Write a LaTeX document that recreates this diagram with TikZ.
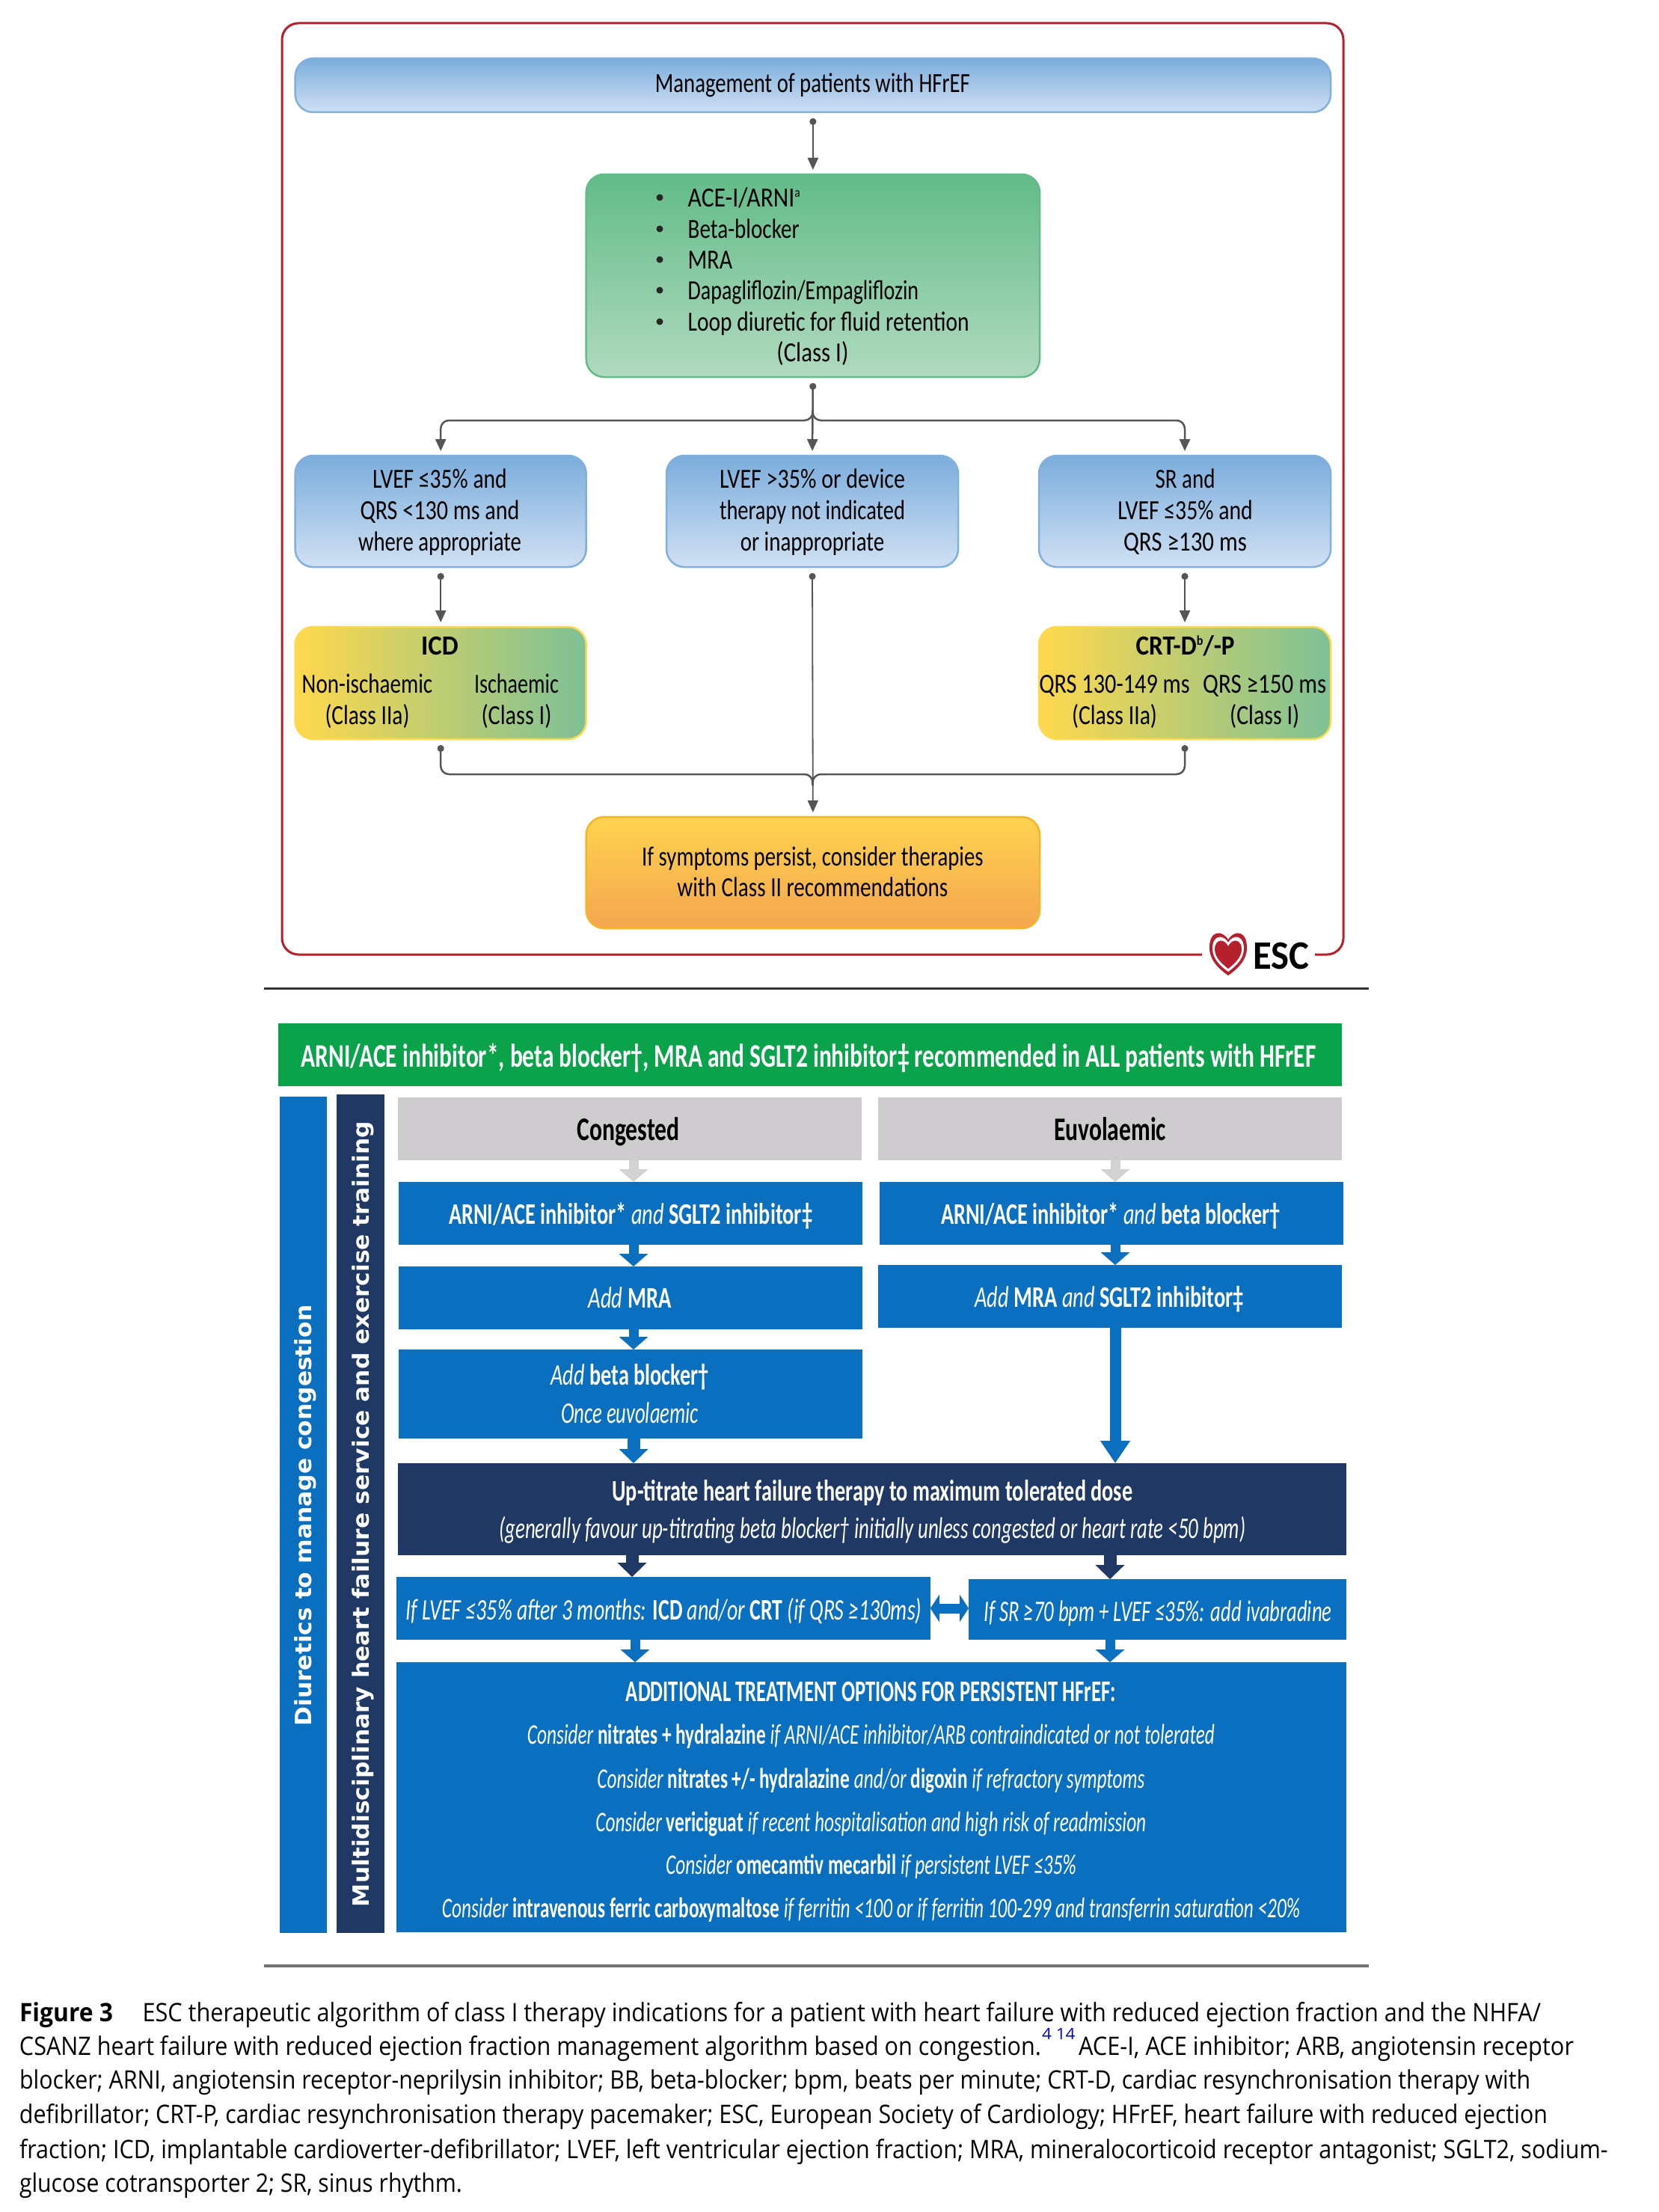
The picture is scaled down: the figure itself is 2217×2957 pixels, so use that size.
\documentclass[tikz,border=0pt]{standalone}
\usepackage{fontspec}
\usepackage{graphicx}
\setmainfont{Carlito}
\newfontfamily\capf{Open Sans}
\newfontfamily\sidef{DejaVu Sans}
\usetikzlibrary{arrows.meta,calc}
\definecolor{frameRed}{HTML}{B5202D}
\definecolor{bTop}{HTML}{7BADDC}
\definecolor{bBot}{HTML}{D0E0F3}
\definecolor{bEdge}{HTML}{7FB0DE}
\definecolor{gTop}{HTML}{62BB88}
\definecolor{gBot}{HTML}{B0DABF}
\definecolor{oTop}{HTML}{FFD34F}
\definecolor{oBot}{HTML}{F4A64F}
\definecolor{oEdge}{HTML}{F5B52A}
\definecolor{yL}{HTML}{FFD84D}
\definecolor{gR}{HTML}{7DC196}
\definecolor{conn}{HTML}{555555}
\definecolor{pBlue}{HTML}{0B6FBF}
\definecolor{pNavy}{HTML}{1F3864}
\definecolor{pGreen}{HTML}{0AA24A}
\definecolor{pGrey}{HTML}{CECCCE}
\definecolor{pArrow}{HTML}{D2D2D2}
\newcommand\fst[1]{\fontsize{#1pt}{#1pt}\selectfont}
\newcommand\fit[2]{\resizebox{#1pt}{\height}{#2}}
\newcounter{tn}
\def\curfs{37}
\def\curfam{}
\newcommand\tx[5][]{\stepcounter{tn}\node[anchor=base,inner sep=0pt,outer sep=0pt,yshift=-10pt,#1] (t\arabic{tn}) at (#2,#3) {\fst{\curfs}\curfam\fit{#4}{#5}};}
\newcommand\bx[6][]{\pgfmathsetmacro\cxx{(#3+#5)/2}\pgfmathsetmacro\cyy{(#4+#6)/2}\pgfmathsetmacro\wdd{#5-#3}\pgfmathsetmacro\htt{#6-#4}\node[#1,minimum width=\wdd pt,minimum height=\htt pt,inner sep=0pt,outer sep=0pt] (#2) at (\cxx,\cyy) {};}
\newcommand\supr[1]{\raisebox{13pt}{\fst{18}#1}}
\tikzset{
 pillbox/.style={rectangle,rounded corners=24pt,draw=bEdge,line width=2.5pt,top color=bTop,bottom color=bBot},
 bluebox/.style={rectangle,rounded corners=24pt,draw=bEdge,line width=2.5pt,top color=bTop,bottom color=bBot},
 greenbox/.style={rectangle,rounded corners=24pt,draw=gTop,line width=2.5pt,top color=gTop,bottom color=gBot},
 orangebox/.style={rectangle,rounded corners=24pt,draw=oEdge,line width=2.5pt,top color=oTop,bottom color=oBot},
 mixbox/.style={rectangle,rounded corners=24pt,draw=yL,line width=2.5pt,left color=yL,right color=gR},
 flat/.style={rectangle,fill=#1},
 link/.style={draw=conn,line width=2.5pt,{Circle[length=9pt,width=9pt]}-{Triangle[length=16pt,width=14pt]},shorten <=8pt,shorten >=6pt},
 linkopen/.style={draw=conn,line width=2.5pt,rounded corners=11pt},
 blockS/.style={draw=#1,line width=13pt,-{Triangle[length=17pt,width=38pt]}},
 blockN/.style={draw=#1,line width=17pt,-{Triangle[length=19pt,width=38pt]}},
 blockL/.style={draw=#1,line width=15pt,-{Triangle[length=30pt,width=38pt]}},
 wt/.style={text=white},
 upa/.style={yshift=-1.5pt},
 upb/.style={yshift=-3.5pt},
}
\begin{document}
\begin{tikzpicture}[x=1pt,y=-1pt]
\useasboundingbox (0,0) rectangle (2217,2957);
\fill[white] (0,0) rectangle (2217,2957);
% ---- frame
\coordinate (fa) at (1607,1276);
\coordinate (fb) at (377,1276);
\coordinate (fc) at (377,31);
\coordinate (fd) at (1796,31);
\coordinate (fe) at (1796,1276);
\coordinate (ff) at (1758,1276);
\draw[frameRed,line width=3pt,rounded corners=22pt] (fa) -- (fb) -- (fc) -- (fd) -- (fe) -- (ff);
% ---- logo
\begin{scope}[shift={(1642,1275)}]
\fill[frameRed] (0,-19) .. controls (-8,-32) and (-25,-32) .. (-25,-8) .. controls (-25,10) and (-10,22) .. (0,29) .. controls (10,22) and (25,10) .. (25,-8) .. controls (25,-32) and (8,-32) .. (0,-19) -- cycle;
\fill[white] (0,-15) .. controls (-6,-26) and (-21,-26) .. (-21,-7) .. controls (-21,8) and (-8,18) .. (0,24) .. controls (8,18) and (21,8) .. (21,-7) .. controls (21,-26) and (6,-26) .. (0,-15) -- cycle;
\fill[frameRed] (0,-10) .. controls (-5,-21) and (-18,-20) .. (-18,-6) .. controls (-18,6) and (-6,15) .. (0,20) .. controls (6,15) and (18,6) .. (18,-6) .. controls (18,-20) and (5,-21) .. (0,-10) -- cycle;
\end{scope}
\def\curfs{54}
\tx[anchor=base west]{1675}{1285}{75}{\textbf{ESC}}
% ---- upper boxes
\bx[pillbox]{title}{394.7}{78}{1779}{150}
\bx[greenbox]{green}{783.7}{233}{1390}{504}
\bx[bluebox]{lva}{394.7}{609}{783.7}{758}
\bx[bluebox]{lvb}{891}{609}{1281}{758}
\bx[bluebox]{lvc}{1389}{609}{1779}{758}
\bx[mixbox]{icd}{394.7}{838}{783.7}{988}
\bx[mixbox]{crt}{1389}{838}{1779}{988}
\bx[orangebox]{persist}{783.7}{1092}{1390}{1241}
\def\curfs{37}
\tx{1086.4}{114}{421}{Management of patients with HFrEF}
\foreach \yy in {264,306,347,388,430}{\fill[black!85] (882,\yy) circle (4.5pt);}
\tx[anchor=base west]{919.7}{266}{150}{ACE-I/ARNI\supr{a}}
\tx[anchor=base west]{919.7}{308}{149}{Beta-blocker}
\tx[anchor=base west]{919.7}{349}{59.5}{MRA}
\tx[anchor=base west]{919.7}{390}{308.6}{Dapagliflozin/Empagliflozin}
\tx[anchor=base west]{919.7}{432}{376}{Loop diuretic for fluid retention}
\tx{1086.4}{473}{96}{(Class I)}
\tx{588}{642}{179.6}{LVEF ≤35\% and}
\tx{588}{684}{213}{QRS <130 ms and}
\tx{588}{726}{218}{where appropriate}
\tx{1086}{642}{248}{LVEF >35\% or device}
\tx{1086}{684}{248}{therapy not indicated}
\tx{1086}{726}{192.5}{or inappropriate}
\tx{1584.6}{642}{80}{SR and}
\tx{1584.6}{684}{180.6}{LVEF ≤35\% and}
\tx{1584.6}{726}{165}{QRS ≥130 ms}
\tx{588}{865}{49.6}{\textbf{ICD}}
\tx{491}{916}{174.6}{Non-ischaemic}
\tx{491}{958}{113}{(Class IIa)}
\tx{690.5}{916}{113}{Ischaemic}
\tx{690.5}{958}{94}{(Class I)}
\tx{1584.6}{865}{132}{\textbf{CRT-D\supr{b}/-P}}
\tx{1490}{916}{201.5}{QRS 130-149 ms}
\tx{1490}{958}{114}{(Class IIa)}
\tx{1690.7}{916}{165}{QRS ≥150 ms}
\tx{1690.7}{958}{93}{(Class I)}
\tx{1086.4}{1147}{456.5}{If symptoms persist, consider therapies}
\tx{1086.4}{1188}{362}{with Class II recommendations}
% ---- upper connectors
\coordinate (jt) at (1086.5,562);
\coordinate (jtu) at (1086.5,548);
\coordinate (jb) at (1086.5,1035);
\coordinate (jbd) at (1086.5,1050);
\draw[link] (title.south) -- (green.north);
\draw[link] (green.south) -- (lvb.north);
\draw[linkopen,-{Triangle[length=16pt,width=14pt]},shorten >=6pt] (jtu) -- (jt) -- (jt -| lva.north) -- (lva.north);
\draw[linkopen,-{Triangle[length=16pt,width=14pt]},shorten >=6pt] (jtu) -- (jt) -- (jt -| lvc.north) -- (lvc.north);
\draw[link] (lva.south) -- (icd.north);
\draw[link] (lvc.south) -- (crt.north);
\draw[link,line width=1.8pt] (lvb.south) -- (persist.north);
\draw[linkopen,{Circle[length=9pt,width=9pt]}-,shorten <=8pt] (icd.south) -- (icd.south |- jb) -- (jb) -- (jbd);
\draw[linkopen,{Circle[length=9pt,width=9pt]}-,shorten <=8pt] (crt.south) -- (crt.south |- jb) -- (jb) -- (jbd);
% ---- rules
\coordinate (rua) at (353,1321);
\coordinate (rub) at (1830,1321);
\coordinate (ruc) at (353,2628);
\coordinate (rud) at (1830,2628);
\draw[black!80,line width=3pt] (rua) -- (rub);
\draw[black!55,line width=3.5pt] (ruc) -- (rud);
% ---- lower boxes
\bx[flat=pGreen]{allbar}{371.7}{1368}{1794}{1452}
\bx[flat=pBlue]{sideA}{373.7}{1466}{437}{2584}
\bx[flat=pNavy]{sideB}{450}{1463}{513.6}{2584}
\bx[flat=pGrey]{cong}{531.5}{1467}{1151.5}{1551}
\bx[flat=pGrey]{euvo}{1174}{1467}{1794}{1551}
\bx[flat=pBlue]{la}{532.5}{1580}{1152.5}{1664}
\bx[flat=pBlue]{ra}{1176}{1580}{1796}{1664}
\bx[flat=pBlue]{lb}{532.5}{1693}{1152.5}{1777}
\bx[flat=pBlue]{rb}{1174}{1691}{1794}{1775}
\bx[flat=pBlue]{lc}{532.5}{1804}{1152.5}{1923}
\bx[flat=pNavy]{upt}{531.5}{1956}{1800}{2079}
\bx[flat=pBlue]{ifl}{529.5}{2108}{1243.8}{2192}
\bx[flat=pBlue]{ifr}{1295}{2111}{1800}{2192}
\bx[flat=pBlue]{addl}{529.5}{2222}{1800}{2583}
% ---- lower connectors
\coordinate (xa) at (847,0);
\coordinate (xb) at (1491,0);
\coordinate (xc) at (845,0);
\coordinate (xd) at (1484,0);
\coordinate (xe) at (849,0);
\draw[blockS=pArrow] (cong.south -| xa) -- (la.north -| xa);
\draw[blockS=pArrow] (euvo.south -| xb) -- (ra.north -| xb);
\draw[blockS=pBlue] (la.south -| xa) -- (lb.north -| xa);
\draw[blockS=pBlue] (ra.south -| xb) -- (rb.north -| xb);
\draw[blockS=pBlue] (lb.south -| xa) -- (lc.north -| xa);
\draw[blockN=pBlue] (lc.south -| xa) -- (upt.north -| xa);
\draw[blockL=pBlue] (rb.south -| xb) -- (upt.north -| xb);
\draw[blockN=pNavy] (upt.south -| xc) -- (ifl.north -| xc);
\draw[blockN=pNavy] (upt.south -| xd) -- (ifr.north -| xd);
\draw[blockS=pBlue] (ifl.south -| xe) -- (addl.north -| xe);
\draw[blockS=pBlue] (ifr.south -| xd) -- (addl.north -| xd);
\draw[draw=pBlue,line width=13pt,{Triangle[length=12pt,width=36pt]}-{Triangle[length=12pt,width=36pt]}] (ifl.east) -- (ifl.east -| ifr.west);
% ---- lower text
\def\curfs{44}
\tx[wt,yshift=-6pt]{1081}{1410}{1357}{\textbf{ARNI/ACE inhibitor*, beta blocker†, MRA and SGLT2 inhibitor‡ recommended in ALL patients with HFrEF}}
\tx[yshift=-4.5pt]{840}{1510}{137}{\textbf{Congested}}
\tx[yshift=-4.5pt]{1484}{1510}{150}{\textbf{Euvolaemic}}
\def\curfs{40}
\tx[wt,upb]{843}{1623}{486}{\textbf{ARNI/ACE inhibitor*} \textit{and} \textbf{SGLT2 inhibitor‡}}
\tx[wt,upb]{1485}{1623}{454}{\textbf{ARNI/ACE inhibitor*} \textit{and} \textbf{beta blocker†}}
\tx[wt,upb]{842}{1735}{111}{\textit{Add} \textbf{MRA}}
\tx[wt,upb]{1483}{1734}{359}{\textit{Add} \textbf{MRA} \textit{and} \textbf{SGLT2 inhibitor‡}}
\tx[wt,upa]{842}{1840}{211}{\textit{Add} \textbf{beta blocker†}}
\tx[wt,upa]{842}{1891}{183.5}{\textit{Once euvolaemic}}
\tx[wt,upa]{1166.4}{1995}{696}{\textbf{Up-titrate heart failure therapy to maximum tolerated dose}}
\tx[wt,upa]{1166.4}{2045}{998}{\textit{(generally favour up-titrating beta blocker† initially unless congested or heart rate <50 bpm)}}
\tx[wt,upa]{887.6}{2154}{689.5}{\textit{If LVEF ≤35\% after 3 months:} \textbf{ICD} \textit{and/or} \textbf{CRT} \textit{(if QRS ≥130ms)}}
\tx[wt,upa]{1548}{2156}{465}{\textit{If SR ≥70 bpm + LVEF ≤35\%: add ivabradine}}
\tx[wt,upb]{1164.4}{2261}{655}{\textbf{ADDITIONAL TREATMENT OPTIONS FOR PERSISTENT HFrEF:}}
\def\curfs{38}
\tx[wt,upa]{1164.4}{2320}{919}{\textit{Consider} \textbf{nitrates + hydralazine} \textit{if ARNI/ACE inhibitor/ARB contraindicated or not tolerated}}
\tx[wt,upa]{1164.4}{2379}{732}{\textit{Consider} \textbf{nitrates +/- hydralazine} \textit{and/or} \textbf{digoxin} \textit{if refractory symptoms}}
\tx[wt,upa]{1164.4}{2437}{736}{\textit{Consider} \textbf{vericiguat} \textit{if recent hospitalisation and high risk of readmission}}
\tx[wt,upa]{1164.4}{2494}{548.6}{\textit{Consider} \textbf{omecamtiv mecarbil} \textit{if persistent LVEF ≤35\%}}
\tx[wt,upa]{1164.4}{2552}{1147}{\textit{Consider} \textbf{intravenous ferric carboxymaltose} \textit{if ferritin <100 or if ferritin 100-299 and transferrin saturation <20\%}}
% ---- side labels
\node[rotate=90,text=white,inner sep=0pt] (sideAt) at (408,2026) {\fst{30}\sidef\fit{563}{\textbf{Diuretics to manage congestion}}};
\node[rotate=90,text=white,inner sep=0pt] (sideBt) at (485,2024) {\fst{30}\sidef\fit{1050}{\textbf{Multidisciplinary heart failure service and exercise training}}};
% ---- caption
\def\curfs{34}
\def\curfam{\capf}
\tx[anchor=base west]{26}{2692}{125}{\textbf{Figure 3}}
\tx[anchor=base west]{190.5}{2692}{1869.5}{ESC therapeutic algorithm of class I therapy indications for a patient with heart failure with reduced ejection fraction and the NHFA/}
\tx[anchor=base west]{26}{2737}{1366}{CSANZ heart failure with reduced ejection fraction management algorithm based on congestion.}
\tx[anchor=base west,text=blue!85!black]{1393}{2716}{44.6}{\fst{21}4 14}
\tx[anchor=base west]{1442}{2737}{662}{ACE-I, ACE inhibitor; ARB, angiotensin receptor}
\tx[anchor=base west]{26}{2782}{2020}{blocker; ARNI, angiotensin receptor-neprilysin inhibitor; BB, beta-blocker; bpm, beats per minute; CRT-D, cardiac resynchronisation therapy with}
\tx[anchor=base west]{26}{2828}{2043}{defibrillator; CRT-P, cardiac resynchronisation therapy pacemaker; ESC, European Society of Cardiology; HFrEF, heart failure with reduced ejection}
\tx[anchor=base west]{26}{2875}{2123.6}{fraction; ICD, implantable cardioverter-defibrillator; LVEF, left ventricular ejection fraction; MRA, mineralocorticoid receptor antagonist; SGLT2, sodium-}
\tx[anchor=base west]{26}{2920}{592}{glucose cotransporter 2; SR, sinus rhythm.}
\end{tikzpicture}
\end{document}
